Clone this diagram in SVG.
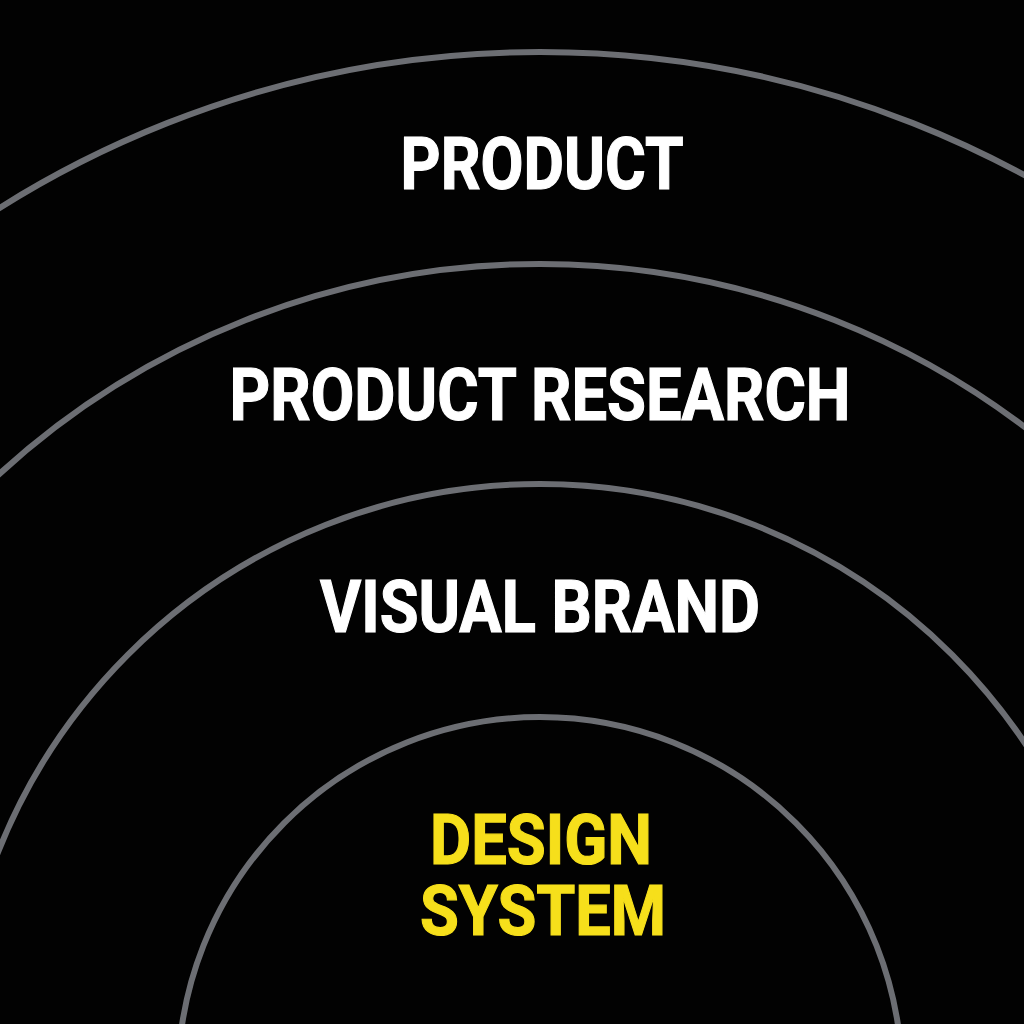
<svg xmlns="http://www.w3.org/2000/svg" width="1024" height="1024" viewBox="0 0 1024 1024">
<style>
.arc{fill:none;stroke:#6c6e73;stroke-width:6}
.lbl{font-family:Roboto,"Liberation Sans",Arial,sans-serif;font-weight:700;font-size:72px;text-anchor:middle;stroke-width:1.2px}
.sm{font-size:70px}
.w{fill:#ffffff;stroke:#ffffff}
.y{fill:#f6df1b;stroke:#f6df1b}
</style>
<rect x="0" y="0" width="1024" height="1024" fill="#020202"/>
<g id="connectors">
<circle id="ring-product" class="arc" cx="540" cy="1065" r="1013"/>
<circle id="ring-research" class="arc" cx="540" cy="1065" r="801"/>
<circle id="ring-brand" class="arc" cx="540" cy="1067" r="583"/>
<circle id="ring-design" class="arc" cx="540" cy="1079" r="362"/>
</g>
<g id="node-product"><text class="lbl w" x="542" y="189" textLength="283" lengthAdjust="spacingAndGlyphs">PRODUCT</text></g>
<g id="node-research"><text class="lbl w" x="540" y="420" textLength="621" lengthAdjust="spacingAndGlyphs">PRODUCT RESEARCH</text></g>
<g id="node-brand"><text class="lbl w" x="540" y="632" textLength="440" lengthAdjust="spacingAndGlyphs">VISUAL BRAND</text></g>
<g id="node-design">
<text class="lbl sm y" x="541" y="864" textLength="222" lengthAdjust="spacingAndGlyphs">DESIGN</text>
<text class="lbl sm y" x="543" y="935" textLength="246" lengthAdjust="spacingAndGlyphs">SYSTEM</text>
</g>
</svg>
